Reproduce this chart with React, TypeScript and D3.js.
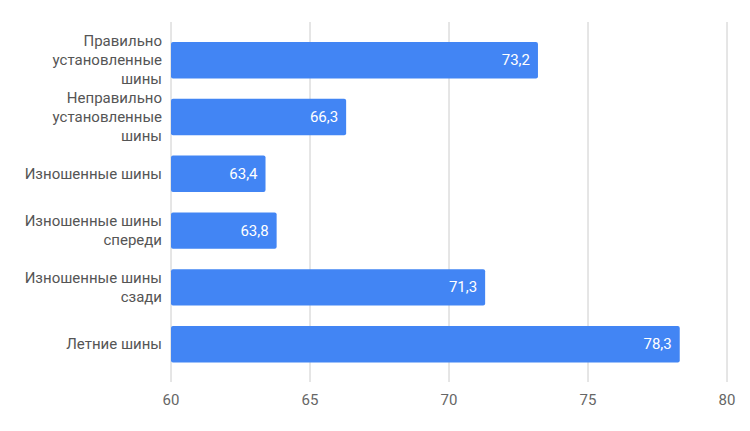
import { useEffect } from 'react';
import * as d3 from 'd3';

// Chart data
const categories = [
  ['Правильно', 'установленные', 'шины'],
  ['Неправильно', 'установленные', 'шины'],
  ['Изношенные шины'],
  ['Изношенные шины', 'спереди'],
  ['Изношенные шины', 'сзади'],
  ['Летние шины'],
];
const values = [73.2, 66.3, 63.4, 63.8, 71.3, 78.3];
const xTicks = [60, 65, 70, 75, 80];

const width = 750;
const height = 431;
const marginLeft = 171;
const marginRight = 23;
const plotTop = 22;
const plotBottom = 382;

export default function App() {
  useEffect(() => {
    document.body.style.margin = '0';
  }, []);

  const x = d3.scaleLinear().domain([60, 80]).range([marginLeft, width - marginRight]);
  const y = d3
    .scaleBand<number>()
    .domain(d3.range(categories.length))
    .range([31.8, 372.6])
    .paddingInner(0.36)
    .paddingOuter(0.18);

  const fmt = (v: number) => v.toFixed(1).replace('.', ',');
  const lineH = 18.8;

  return (
    <svg width={width} height={height} style={{ display: 'block', fontFamily: 'Roboto, sans-serif' }}>
      <rect width={width} height={height} fill="#fff" />
      {/* gridlines */}
      {xTicks.map((t) => (
        <line key={t} x1={x(t)} x2={x(t)} y1={plotTop} y2={plotBottom} stroke="#cccccc" strokeWidth={1} />
      ))}
      {/* tick labels */}
      {xTicks.map((t) => (
        <text key={t} x={x(t)} y={400} textAnchor="middle" dominantBaseline="central" fontSize={15} fill="#666">
          {t}
        </text>
      ))}
      {/* bars */}
      {values.map((v, i) => {
        const y0 = y(i)!;
        const bh = y.bandwidth();
        const cy = y0 + bh / 2;
        return (
          <g key={i}>
            <rect x={x(60)} y={y0} width={x(v) - x(60)} height={bh} fill="#4285f4" rx={2} />
            <text x={x(v) - 8} y={cy} textAnchor="end" dominantBaseline="central" fontSize={15} fill="#fff">
              {fmt(v)}
            </text>
            {categories[i].map((line, j) => (
              <text
                key={j}
                x={162}
                y={cy + (j - (categories[i].length - 1) / 2) * lineH}
                textAnchor="end"
                dominantBaseline="central"
                fontSize={15}
                fill="#555"
              >
                {line}
              </text>
            ))}
          </g>
        );
      })}
    </svg>
  );
}
